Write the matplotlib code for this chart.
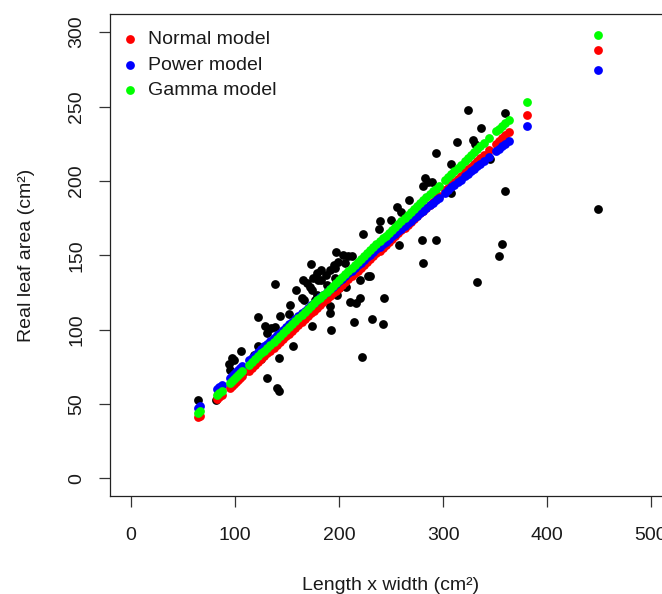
import matplotlib
matplotlib.use("Agg")
import matplotlib.pyplot as plt

plt.rcParams['font.family'] = ['Liberation Sans', 'DejaVu Sans']

# observed leaf areas (black)
obs_x = [64, 82, 94, 95, 99, 97, 106, 118, 122, 122, 129, 131, 138, 135, 131, 140, 142, 142,
         145, 143, 153, 152, 156, 138, 159, 164, 165, 169, 173, 174, 175, 179, 179, 183, 183,
         187, 174, 192, 191, 191, 195, 197, 199, 204, 209, 206, 191, 196, 199, 207, 198, 211,
         216, 220, 214, 220, 230, 222, 223, 232, 242, 243.5, 239.5, 250, 238.5, 256, 260, 267,
         258, 280, 293, 281, 283, 289, 281, 286, 293, 308, 308, 313, 324, 329, 331, 333, 336.5,
         345.5, 354, 356.5, 359.5, 359.5, 449,
         172, 166, 177, 188, 188, 180, 212, 228, 196, 150, 170, 200, 240, 265, 275, 125, 110]
obs_y = [52.4, 52.4, 77.1, 73.1, 79.8, 81, 85.4, 83.1, 89.2, 108.5, 102.2, 98.1, 101.8, 101,
         67.5, 60.8, 58.5, 80.9, 96.6, 108.9, 116.7, 110.5, 89.2, 130.6, 126.8, 121.2, 133.5,
         131.3, 144.3, 126.8, 134.6, 138, 123.5, 140.3, 133.5, 136.9, 102.6, 100, 111.2, 115.6,
         143.6, 152, 145.8, 150.3, 149.5, 144.8, 140.3, 134.7, 131.3, 128.5, 123.5, 118.5,
         117.9, 121, 105.3, 133.5, 136.2, 81.8, 164, 107, 103.5, 121, 173, 174, 167.5, 182.8,
         179.4, 187.3, 157, 160.6, 160.5, 145, 201.9, 199.6, 196.5, 199, 219, 211.5, 192.2,
         226.5, 247.8, 227.6, 224.5, 132, 235.5, 215, 149.7, 157.7, 193.3, 245.5, 181,
         129, 120, 120, 122.3, 130, 133.5, 149.2, 136.4, 141.4, 100, 112, 128, 155, 172, 178, 80, 72]

# model predictions
pred_x = [64, 66, 83, 85, 87, 95, 97, 99, 101, 103, 105, 107,
          113, 116, 119, 122, 125, 128, 131, 134, 137, 140, 143, 146, 149, 152, 155, 158, 161,
          164, 167, 170, 173, 176, 179, 182, 185, 188, 191, 194, 197, 200, 203, 206, 209, 212,
          215, 218, 221, 224, 227, 230, 233, 236, 239, 242, 245, 248, 251, 254, 257, 260, 263,
          266, 269, 272, 275, 278, 281, 284, 287, 290, 293, 296,
          302, 305, 308, 311, 314, 317,
          321, 324, 327, 330, 333, 336, 339,
          344,
          351, 354, 357, 360, 363,
          381, 449]
normal_y = [41.0, 42.3, 53.2, 54.5, 55.8, 60.9, 62.2, 63.5, 64.7, 66.0, 67.3, 68.6,
            72.4, 74.4, 76.3, 78.2, 80.1, 82.0, 84.0, 85.9, 87.8, 89.7, 91.7, 93.6, 95.5, 97.4,
            99.4, 101.3, 103.2, 105.1, 107.0, 109.0, 110.9, 112.8, 114.7, 116.7, 118.6, 120.5,
            122.4, 124.4, 126.3, 128.2, 130.1, 132.0, 134.0, 135.9, 137.8, 139.7, 141.7, 143.6,
            145.5, 147.4, 149.4, 151.3, 153.2, 155.1, 157.0, 159.0, 160.9, 162.8, 164.7, 166.7,
            168.6, 170.5, 172.4, 174.4, 176.3, 178.2, 180.1, 182.0, 184.0, 185.9, 187.8, 189.7,
            193.6, 195.5, 197.4, 199.4, 201.3, 203.2,
            205.8, 207.7, 209.6, 211.5, 213.5, 215.4, 217.3,
            220.5,
            225.0, 226.9, 228.8, 230.8, 232.7,
            244.2, 287.8]
power_y = [47.5, 48.8, 60.0, 61.3, 62.6, 67.8, 69.1, 70.4, 71.6, 72.9, 74.2, 75.5,
           79.3, 81.1, 83.0, 84.9, 86.8, 88.7, 90.6, 92.4, 94.3, 96.1, 98.0, 99.8, 101.7, 103.5,
           105.4, 107.2, 109.0, 110.9, 112.7, 114.5, 116.3, 118.1, 120.0, 121.8, 123.6, 125.4,
           127.2, 129.0, 130.8, 132.6, 134.4, 136.1, 137.9, 139.7, 141.5, 143.3, 145.1, 146.8,
           148.6, 150.4, 152.1, 153.9, 155.7, 157.4, 159.2, 160.9, 162.7, 164.4, 166.2, 167.9,
           169.7, 171.4, 173.2, 174.9, 176.6, 178.4, 180.1, 181.8, 183.6, 185.3, 187.0, 188.8,
           192.2, 193.9, 195.6, 197.3, 199.0, 200.8,
           203.0, 204.7, 206.5, 208.2, 209.9, 211.6, 213.3,
           216.1,
           220.1, 221.7, 223.5, 225.1, 226.8,
           236.9, 274.7]
gamma_y = [43.7, 45.0, 56.2, 57.6, 58.9, 64.2, 65.5, 66.8, 68.1, 69.5, 70.8, 72.1,
           76.1, 78.0, 80.0, 82.0, 84.0, 86.0, 87.9, 89.9, 91.9, 93.9, 95.9, 97.9, 99.8, 101.8,
           103.8, 105.8, 107.8, 109.8, 111.7, 113.7, 115.7, 117.7, 119.7, 121.6, 123.6, 125.6,
           127.6, 129.6, 131.5, 133.5, 135.5, 137.5, 139.5, 141.5, 143.4, 145.4, 147.4, 149.4,
           151.4, 153.3, 155.3, 157.3, 159.3, 161.3, 163.2, 165.2, 167.2, 169.2, 171.2, 173.2,
           175.1, 177.1, 179.1, 181.1, 183.1, 185.0, 187.0, 189.0, 191.0, 193.0, 194.9, 196.9,
           200.9, 202.9, 204.9, 206.8, 208.8, 210.8,
           213.5, 215.4, 217.4, 219.4, 221.4, 223.4, 225.3,
           228.6,
           233.3, 235.2, 237.2, 239.2, 241.2,
           253.1, 298.0]

x_ticks = [0, 100, 200, 300, 400, 500]
y_ticks = [0, 50, 100, 150, 200, 250, 300]
series_labels = ["Normal model", "Power model", "Gamma model"]
series_colors = ["#ff0000", "#0000ff", "#00ff00"]

fig = plt.figure(figsize=(6.62, 5.94), dpi=100)
ax = fig.add_axes([0.1666, 0.1645, 0.8482, 0.8114])

S = 40
ax.scatter(obs_x, obs_y, s=S, color="black", linewidths=0, zorder=2)
handles = []
for ys, c, lab in zip([normal_y, power_y, gamma_y], series_colors, series_labels):
    h = ax.scatter(pred_x, ys, s=S, color=c, linewidths=0, zorder=3, label=lab)
    handles.append(h)

ax.set_xlim(-20, 520)
ax.set_ylim(-12, 312)
ax.set_xticks(x_ticks)
ax.set_yticks(y_ticks)
for sp in ax.spines.values():
    sp.set_linewidth(0.9)
    sp.set_color("#222222")
ax.tick_params(axis="both", direction="out", length=8, width=0.9, color="#333333",
               labelsize=14, labelcolor="#1a1a1a")
ax.tick_params(axis="x", pad=14)
ax.tick_params(axis="y", pad=10, labelrotation=90)
for lbl in ax.get_yticklabels():
    lbl.set_va("center")

ax.set_xlabel("Length x width (cm²)", fontsize=14, color="#1a1a1a", labelpad=24)
ax.set_ylabel("Real leaf area (cm²)", fontsize=14, color="#1a1a1a", labelpad=24)

leg = ax.legend(handles=handles, loc="upper left", bbox_to_anchor=(0.0212, 0.966),
                frameon=False, fontsize=14, handlelength=0.8, handletextpad=0.53,
                labelspacing=0.4, borderpad=0, borderaxespad=0, scatterpoints=1)
for t in leg.get_texts():
    t.set_color("#1a1a1a")

fig.savefig("out.png", dpi=100)
